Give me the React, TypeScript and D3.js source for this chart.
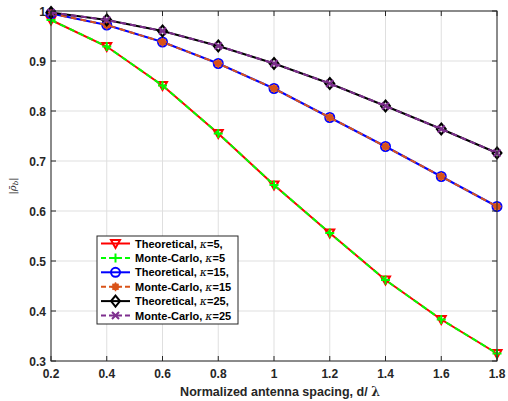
import React from "react";
import * as d3 from "d3";

const spacing = [0.2, 0.4, 0.6, 0.8, 1.0, 1.2, 1.4, 1.6, 1.8];
const theoK5 = [0.982, 0.929, 0.851, 0.755, 0.652, 0.556, 0.462, 0.383, 0.315];
const mcK5 = [0.982, 0.929, 0.851, 0.755, 0.652, 0.556, 0.462, 0.383, 0.315];
const theoK15 = [0.995, 0.972, 0.938, 0.895, 0.845, 0.787, 0.729, 0.669, 0.609];
const mcK15 = [0.995, 0.972, 0.938, 0.895, 0.845, 0.787, 0.729, 0.669, 0.609];
const theoK25 = [0.997, 0.982, 0.96, 0.93, 0.895, 0.855, 0.81, 0.764, 0.716];
const mcK25 = [0.997, 0.982, 0.96, 0.93, 0.895, 0.855, 0.81, 0.764, 0.716];
const xTicks = [0.2, 0.4, 0.6, 0.8, 1, 1.2, 1.4, 1.6, 1.8];
const yTicks = [0.3, 0.4, 0.5, 0.6, 0.7, 0.8, 0.9, 1];

type Series = { name: string; kappa: string; values: number[]; color: string; dash: string; marker: string };

const series: Series[] = [
  { name: "Theoretical,", kappa: "=5,", values: theoK5, color: "#ff0000", dash: "", marker: "tri" },
  { name: "Monte-Carlo,", kappa: "=5", values: mcK5, color: "#00ff00", dash: "6,4", marker: "plus" },
  { name: "Theoretical,", kappa: "=15,", values: theoK15, color: "#0000ff", dash: "", marker: "circle" },
  { name: "Monte-Carlo,", kappa: "=15", values: mcK15, color: "#d95319", dash: "6,4", marker: "star" },
  { name: "Theoretical,", kappa: "=25,", values: theoK25, color: "#000000", dash: "", marker: "diamond" },
  { name: "Monte-Carlo,", kappa: "=25", values: mcK25, color: "#7e2f8e", dash: "6,4", marker: "x" },
];

function Marker({ type, x, y, color }: { type: string; x: number; y: number; color: string }) {
  const s = 4.5;
  switch (type) {
    case "tri":
      return <path d={`M${x - s},${y - s * 0.8} L${x + s},${y - s * 0.8} L${x},${y + s} Z`} fill="none" stroke={color} strokeWidth={2} />;
    case "plus":
      return <path d={`M${x - s},${y} L${x + s},${y} M${x},${y - s} L${x},${y + s}`} stroke={color} strokeWidth={2} />;
    case "circle":
      return <circle cx={x} cy={y} r={s} fill="none" stroke={color} strokeWidth={2} />;
    case "star":
      return (
        <g>
          <circle cx={x} cy={y} r={3.5} fill={color} />
          <path d={`M${x - s},${y} L${x + s},${y} M${x},${y - s} L${x},${y + s} M${x - 3},${y - 3} L${x + 3},${y + 3} M${x - 3},${y + 3} L${x + 3},${y - 3}`} stroke={color} strokeWidth={1.5} />
        </g>
      );
    case "diamond":
      return <path d={`M${x},${y - s - 1} L${x + s},${y} L${x},${y + s + 1} L${x - s},${y} Z`} fill="none" stroke={color} strokeWidth={2} />;
    case "x":
      return <path d={`M${x - 3.5},${y - 3.5} L${x + 3.5},${y + 3.5} M${x - 3.5},${y + 3.5} L${x + 3.5},${y - 3.5}`} stroke={color} strokeWidth={2} />;
  }
  return null;
}

export default function App() {
  const W = 508, H = 401;
  const left = 51, right = 497, top = 11, bottom = 361;
  const x = d3.scaleLinear().domain([0.2, 1.8]).range([left, right]);
  const y = d3.scaleLinear().domain([0.3, 1]).range([bottom, top]);
  const line = d3.line<number>().x((_, i) => x(spacing[i])).y((v) => y(v));
  const font = "Liberation Sans, Arial, Helvetica, sans-serif";
  const axisColor = "#262626";
  const tl = 5;

  const legX = 97, legY = 236, legW = 141, legH = 88;
  const rowY0 = 243.5, rowDy = 14.4;

  return (
    <svg width={W} height={H} style={{ position: "absolute", left: 0, top: 0 }} fontFamily={font}>
      <rect width={W} height={H} fill="#fff" />
      {xTicks.map((t) => (
        <line key={"gx" + t} x1={x(t)} x2={x(t)} y1={top} y2={bottom} stroke="#dfdfdf" strokeWidth={1} />
      ))}
      {yTicks.map((t) => (
        <line key={"gy" + t} x1={left} x2={right} y1={y(t)} y2={y(t)} stroke="#dfdfdf" strokeWidth={1} />
      ))}
      {series.map((s, i) => (
        <g key={i}>
          <path d={line(s.values) || ""} fill="none" stroke={s.color} strokeWidth={2} strokeDasharray={s.dash} />
          {s.values.map((v, j) => (
            <Marker key={j} type={s.marker} x={x(spacing[j])} y={y(v)} color={s.color} />
          ))}
        </g>
      ))}
      <rect x={left} y={top} width={right - left} height={bottom - top} fill="none" stroke={axisColor} strokeWidth={1} />
      {xTicks.map((t) => (
        <g key={"tx" + t}>
          <line x1={x(t)} x2={x(t)} y1={bottom} y2={bottom - tl} stroke={axisColor} />
          <line x1={x(t)} x2={x(t)} y1={top} y2={top + tl} stroke={axisColor} />
          <text x={x(t)} y={bottom + 17} textAnchor="middle" fontSize={12} fontWeight="bold" fill={axisColor}>
            {String(t)}
          </text>
        </g>
      ))}
      {yTicks.map((t) => (
        <g key={"ty" + t}>
          <line x1={left} x2={left + tl} y1={y(t)} y2={y(t)} stroke={axisColor} />
          <line x1={right} x2={right - tl} y1={y(t)} y2={y(t)} stroke={axisColor} />
          <text x={left - 5} y={y(t) + 5} textAnchor="end" fontSize={12} fontWeight="bold" fill={axisColor}>
            {String(t)}
          </text>
        </g>
      ))}
      <text x={(left + right) / 2 + 6} y={396} textAnchor="middle" fontSize={12.5} fontWeight="bold" fill={axisColor}>
        Normalized antenna spacing, d/ <tspan fontFamily="DejaVu Serif, serif">λ</tspan>
      </text>
      <text transform={`translate(16,${(top + bottom) / 2}) rotate(-90)`} textAnchor="middle" fontSize={10} fill={axisColor} fontFamily="DejaVu Serif, serif">
        |<tspan fontStyle="italic">ρ̄</tspan>
        <tspan fontSize={7} dy={2} fontStyle="italic">b</tspan>
        <tspan dy={-2}>|</tspan>
      </text>
      <rect x={legX} y={legY} width={legW} height={legH} fill="#fff" stroke={axisColor} strokeWidth={1} />
      {series.map((s, i) => {
        const ry = rowY0 + i * rowDy;
        return (
          <g key={"lg" + i}>
            <line x1={101} x2={130} y1={ry} y2={ry} stroke={s.color} strokeWidth={2} strokeDasharray={s.dash ? "5,3" : ""} />
            <Marker type={s.marker} x={115.5} y={ry} color={s.color} />
            <text x={135} y={ry + 4} fontSize={11} fontWeight="bold" fill="#000">
              {s.name}{i % 2 === 1 ? "  " : " "}
              <tspan fontStyle="italic" fontFamily="DejaVu Serif, serif" fontWeight="normal">κ</tspan>
              {s.kappa}
            </text>
          </g>
        );
      })}
    </svg>
  );
}
